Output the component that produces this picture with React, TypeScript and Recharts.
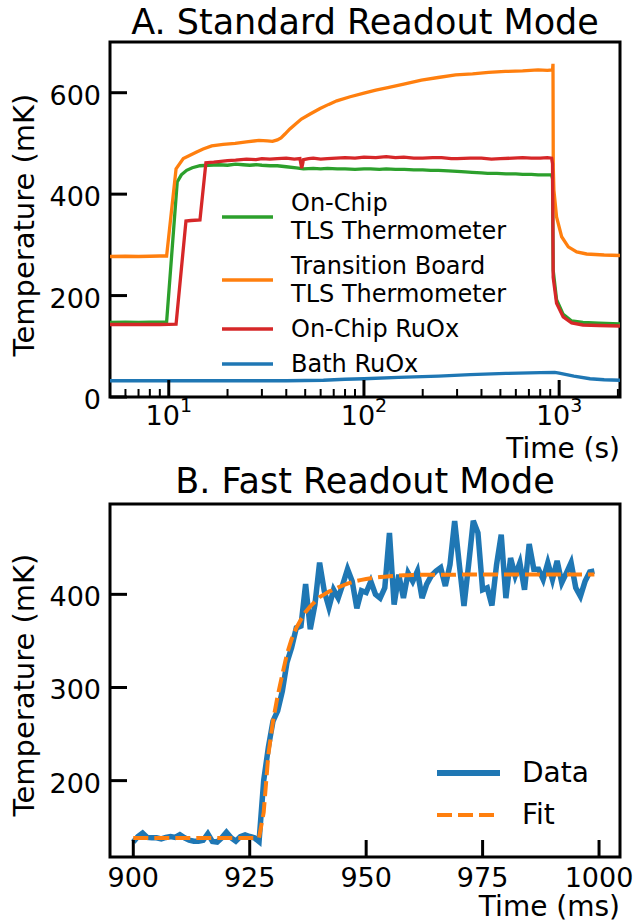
import React from 'react';
import { LineChart, Line, XAxis, YAxis, Legend, ReferenceArea } from 'recharts';

const FONT = '"DejaVu Sans", sans-serif';
const BLUE = '#1f77b4';
const ORANGE = '#ff7f0e';
const GREEN = '#2ca02c';
const RED = '#d62728';

// ---- A. Standard Readout Mode : [time (s), temperature (mK)]
const NAME_CHIP_TLS = 'On-Chip\nTLS Thermometer';
const NAME_BOARD_TLS = 'Transition Board\nTLS Thermometer';
const NAME_CHIP_RUOX = 'On-Chip RuOx';
const NAME_BATH_RUOX = 'Bath RuOx';

const onChipTls = [
  [5, 147], [6, 147.5], [7, 147], [8, 147.5], [9, 147.5], [9.75, 148], [11.05, 424], [11.6, 438],
  [12.35, 447], [13.2, 452], [14.45, 456], [16, 457], [18, 458], [20, 457], [22, 459], [24, 458],
  [26, 457], [28, 458], [30, 457], [33, 456], [36, 456], [40, 454], [45, 452], [49, 450], [55, 451],
  [60, 450], [65, 451], [73, 450], [80, 450], [90, 449], [100, 450], [108, 450], [120, 449], [130, 450],
  [145, 449], [161, 449], [180, 448], [200, 448], [220, 447], [241, 447], [270, 446], [300, 445],
  [330, 444], [358, 443], [400, 442], [430, 441], [480, 441], [534, 440], [600, 440], [650, 439],
  [720, 439], [780, 438], [850, 438], [915, 438], [925, 430], [932, 250], [970, 192], [1049, 163],
  [1159, 150], [1324, 147], [1600, 145.5], [2050, 144],
];

const boardTls = [
  [5, 277], [6, 277.5], [7, 277], [8, 277.5], [9, 278], [9.75, 278], [10.9, 450], [11.87, 470],
  [13.9, 483], [15, 489], [16.6, 495], [19, 498], [21.9, 500], [25, 503], [29, 506], [32, 505],
  [34, 504], [36, 507], [37.6, 511], [39.5, 519], [41.6, 528], [44.5, 538], [47.8, 548], [53, 558],
  [59.6, 569], [66, 577], [72.6, 584], [85, 592], [100, 599], [115, 605], [132.5, 610], [160, 617],
  [197, 625], [240, 630], [295, 635], [360, 637], [435, 640], [530, 642], [650, 643], [780, 645],
  [870, 644], [925, 645], [930, 657], [933, 453], [940, 408], [970, 355], [1030, 316], [1114, 296],
  [1230, 286], [1383, 282], [1700, 280], [2050, 279],
];

const onChipRuox = [
  [5, 143], [7, 143], [9, 143], [10.9, 143.5], [12.25, 347], [13, 348], [14.45, 349], [15.5, 462],
  [17, 463], [18, 464], [20, 466], [22, 467], [25, 469], [28, 468], [30, 470], [33, 469], [36, 470],
  [40, 471], [44, 469], [47, 470], [48, 451], [49, 468], [52, 470], [55, 471], [60, 469], [65, 470],
  [72, 471], [80, 472], [90, 471], [100, 473], [115, 472], [130, 474], [145, 472], [160, 473],
  [180, 471], [200, 471], [225, 472], [250, 472], [280, 470], [300, 470], [350, 471], [400, 471],
  [450, 469], [500, 470], [580, 471], [650, 472], [720, 471], [800, 471], [870, 472], [915, 471],
  [925, 460], [932, 236], [970, 185], [1049, 158], [1159, 146], [1324, 142], [1600, 141], [2050, 140],
];

const bathRuox = [
  [5, 32], [10, 32], [20, 32], [40, 32], [62, 33], [80, 35], [100, 36], [150, 38.5], [241, 41],
  [350, 44], [534, 46.5], [800, 48], [950, 48.5], [1000, 47], [1190, 41], [1440, 36], [1700, 34],
  [2050, 33],
];

const slowTimeTicks = [6, 7, 8, 9, 10, 20, 30, 40, 50, 60, 70, 80, 90, 100, 200, 300, 400, 500, 600, 700, 800, 900, 1000, 2000];
const slowMajorTicks = [10, 100, 1000];
const slowTempTicks = [0, 200, 400, 600];
const legendOrderA = [NAME_CHIP_TLS, NAME_BOARD_TLS, NAME_CHIP_RUOX, NAME_BATH_RUOX];

// ---- B. Fast Readout Mode : time (ms), temperature (mK)
const fastTime = [
  900, 901, 902, 903, 904, 905, 906, 907, 908, 909,
  910, 911, 912, 913, 914, 915, 916, 917, 918, 919,
  920, 921, 922, 923, 924, 925, 926, 927, 928, 929,
  930, 931, 932, 933, 934, 935, 936, 937, 938, 939,
  940, 941, 942, 943, 944, 945, 946, 947, 948, 949,
  950, 951, 952, 953, 954, 955, 956, 957, 958, 959,
  960, 961, 962, 963, 964, 965, 966, 967, 968, 969,
  970, 971, 972, 973, 974, 975, 976, 977, 978, 979,
  980, 981, 982, 983, 984, 985, 986, 987, 988, 989,
  990, 991, 992, 993, 994, 995, 996, 997, 998, 999,
];
const fastData = [
  134, 140, 143.6, 139, 138.6, 138.6, 137.5, 139, 140, 139,
  142, 138.6, 136, 135, 135, 136, 143, 134.6, 134, 138.6,
  144.6, 138.6, 135, 140, 141.8, 140, 138.6, 134.6, 200, 235.7,
  264, 275, 296, 327, 343, 364, 366, 411, 362.5, 389,
  434, 403.6, 386, 405, 396, 411, 427, 414, 385, 404,
  402, 414, 400, 396, 407, 466, 389, 421, 396, 423,
  414, 425, 396, 411, 420, 425, 428.6, 409, 432, 478.6,
  432, 387.5, 432, 479, 466, 405, 407, 388, 432, 464,
  396, 439, 420, 434, 405, 454, 427, 427, 416, 434,
  416, 436, 412.5, 423, 434, 407, 398, 414, 424, 425,
];
const fastFit = [
  138.5, 138.5, 138.5, 138.5, 138.5, 138.5, 138.5, 138.5, 138.5, 138.5,
  138.5, 138.5, 138.5, 138.5, 138.5, 138.5, 138.5, 138.5, 138.5, 138.5,
  138.5, 138.5, 138.5, 138.5, 138.5, 138.5, 138.5, 138.5, 166, 228,
  264, 291, 314, 336, 352, 364, 373, 381, 387, 392,
  397, 400, 403, 405, 407.5, 409.5, 411.5, 413, 414.5, 415.5,
  416.5, 417.3, 418, 418.5, 419, 419.4, 419.8, 420.1, 420.4, 420.6,
  420.8, 421, 421, 421, 421, 421, 421, 421, 421, 421,
  421.3, 421.3, 421.3, 421.3, 421.3, 421.3, 421.3, 421.3, 421.3, 421.3,
  421.3, 421.3, 421.3, 421.3, 421.3, 421.3, 421.3, 421.3, 421.3, 421.3,
  421.3, 421.3, 421.3, 421.3, 421.3, 421.3, 421.3, 421.3, 421.3, 421.3,
];
const fastTimeTicks = [900, 925, 950, 975, 1000];
const fastTempTicks = [200, 300, 400];

const toPoints = (rows: number[][]) => rows.map(([t, v]) => ({ t, v }));
const fastRows = fastTime.map((t, i) => ({ t, data: fastData[i], fit: fastFit[i] }));

// ticks point into the plot, labels sit outside
const LeftTick = (p: any) => (
  <g>
    <line x1={p.x} y1={p.y} x2={p.x + 17} y2={p.y} stroke="#000" strokeWidth={3} />
    <text x={p.x - 9} y={p.y + 12} textAnchor="end" fontSize={27} fontFamily={FONT} fill="#000">
      {p.payload.value}
    </text>
  </g>
);

const BottomTick = (p: any) => (
  <g>
    <line x1={p.x} y1={p.y} x2={p.x} y2={p.y - 17} stroke="#000" strokeWidth={3} />
    <text x={p.x} y={p.y + 30} textAnchor="middle" fontSize={27} fontFamily={FONT} fill="#000">
      {p.payload.value}
    </text>
  </g>
);

const LogTick = (p: any) => {
  const v = p.payload.value;
  const major = slowMajorTicks.includes(v);
  return (
    <g>
      <line x1={p.x} y1={p.y} x2={p.x} y2={p.y - (major ? 17 : 8)} stroke="#000" strokeWidth={major ? 3 : 2} />
      {major && (
        <text x={p.x} y={p.y + 28} textAnchor="middle" fontSize={27} fontFamily={FONT} fill="#000">
          10<tspan dy={-13} fontSize={19}>{Math.round(Math.log10(v))}</tspan>
        </text>
      )}
    </g>
  );
};

const LegendA = (props: any) => {
  const items = [...(props.payload || [])].sort(
    (a: any, b: any) => legendOrderA.indexOf(a.value) - legendOrderA.indexOf(b.value)
  );
  return (
    <div style={{ fontFamily: FONT, color: '#000' }}>
      {items.map((it: any) => (
        <div key={it.value} style={{ display: 'flex', alignItems: 'center', marginBottom: 7 }}>
          <svg width={51} height={6} style={{ flexShrink: 0 }}>
            <line x1={0} y1={3} x2={51} y2={3} stroke={it.color} strokeWidth={3.3} />
          </svg>
          <span style={{ marginLeft: 18, fontSize: 24, lineHeight: '28px', whiteSpace: 'pre-line' }}>{it.value}</span>
        </div>
      ))}
    </div>
  );
};

const fastLegendStyle: Record<string, { w: number; dash?: string }> = {
  Data: { w: 6 },
  Fit: { w: 4, dash: '15 6' },
};

const LegendB = (props: any) => (
  <div style={{ fontFamily: FONT, color: '#000' }}>
    {(props.payload || []).map((it: any) => (
      <div key={it.value} style={{ display: 'flex', alignItems: 'center', height: 42 }}>
        <svg width={63} height={8} style={{ flexShrink: 0 }}>
          <line x1={0} y1={4} x2={63} y2={4} stroke={it.color}
            strokeWidth={fastLegendStyle[it.value]?.w ?? 4}
            strokeDasharray={fastLegendStyle[it.value]?.dash} />
        </svg>
        <span style={{ marginLeft: 22, fontSize: 28, lineHeight: '34px' }}>{it.value}</span>
      </div>
    ))}
  </div>
);

export default function App() {
  return (
    <div style={{ position: 'absolute', left: 0, top: 0, width: 642, height: 924, background: '#fff', fontFamily: FONT }}>
      <div style={{ position: 'absolute', left: 0, top: 0 }}>
        <LineChart width={642} height={460} margin={{ top: 42, right: 22, bottom: 0, left: 0 }}>
          <XAxis dataKey="t" type="number" scale="log" domain={[5, 2050]} allowDataOverflow
            ticks={slowTimeTicks} interval={0} height={63} tickSize={0} tickMargin={0}
            tickLine={false} axisLine={false} tick={(p: any) => <LogTick {...p} />} />
          <YAxis type="number" domain={[0, 700]} allowDataOverflow ticks={slowTempTicks} interval={0}
            width={110} tickSize={0} tickMargin={0} tickLine={false} axisLine={false}
            tick={(p: any) => <LeftTick {...p} />} />
          <ReferenceArea x1={5} x2={2050} y1={0} y2={700} fill="none" stroke="#000" strokeWidth={3} ifOverflow="visible" />
          <Line data={toPoints(onChipTls)} dataKey="v" name={NAME_CHIP_TLS} stroke={GREEN} strokeWidth={3.3} dot={false} isAnimationActive={false} />
          <Line data={toPoints(boardTls)} dataKey="v" name={NAME_BOARD_TLS} stroke={ORANGE} strokeWidth={3.3} dot={false} isAnimationActive={false} />
          <Line data={toPoints(onChipRuox)} dataKey="v" name={NAME_CHIP_RUOX} stroke={RED} strokeWidth={3.3} dot={false} isAnimationActive={false} />
          <Line data={toPoints(bathRuox)} dataKey="v" name={NAME_BATH_RUOX} stroke={BLUE} strokeWidth={3.3} dot={false} isAnimationActive={false} />
          <Legend layout="vertical" align="center" verticalAlign="middle" content={(p: any) => <LegendA {...p} />}
            wrapperStyle={{ left: 222, top: 189, width: 320, margin: 0 }} />
        </LineChart>
      </div>

      <div style={{ position: 'absolute', left: 0, top: 460 }}>
        <LineChart width={642} height={464} data={fastRows} margin={{ top: 44, right: 22, bottom: 0, left: 0 }}>
          <XAxis dataKey="t" type="number" domain={[895, 1004.5]} allowDataOverflow ticks={fastTimeTicks}
            interval={0} height={67} tickSize={0} tickMargin={0} tickLine={false} axisLine={false}
            tick={(p: any) => <BottomTick {...p} />} />
          <YAxis type="number" domain={[118, 497]} allowDataOverflow ticks={fastTempTicks} interval={0}
            width={110} tickSize={0} tickMargin={0} tickLine={false} axisLine={false}
            tick={(p: any) => <LeftTick {...p} />} />
          <ReferenceArea x1={895} x2={1004.5} y1={118} y2={497} fill="none" stroke="#000" strokeWidth={3} ifOverflow="visible" />
          <Line dataKey="data" name="Data" stroke={BLUE} strokeWidth={5.5} dot={false} isAnimationActive={false} />
          <Line dataKey="fit" name="Fit" stroke={ORANGE} strokeWidth={4} strokeDasharray="15 6" dot={false} isAnimationActive={false} />
          <Legend layout="vertical" align="center" verticalAlign="middle" content={(p: any) => <LegendB {...p} />}
            wrapperStyle={{ left: 437, top: 292, width: 180, margin: 0 }} />
        </LineChart>
      </div>

      <svg width={642} height={924} style={{ position: 'absolute', left: 0, top: 0, pointerEvents: 'none' }}>
        <g fontFamily={FONT} fill="#000">
          <text x={365} y={34} textAnchor="middle" fontSize={35}>A. Standard Readout Mode</text>
          <text x={365} y={493} textAnchor="middle" fontSize={35}>B. Fast Readout Mode</text>
          <text transform="translate(34,225) rotate(-90)" textAnchor="middle" fontSize={29}>Temperature (mK)</text>
          <text transform="translate(34,685) rotate(-90)" textAnchor="middle" fontSize={29}>Temperature (mK)</text>
          <text x={620} y={458} textAnchor="end" fontSize={28}>Time (s)</text>
          <text x={620} y={916} textAnchor="end" fontSize={28}>Time (ms)</text>
        </g>
      </svg>
    </div>
  );
}
